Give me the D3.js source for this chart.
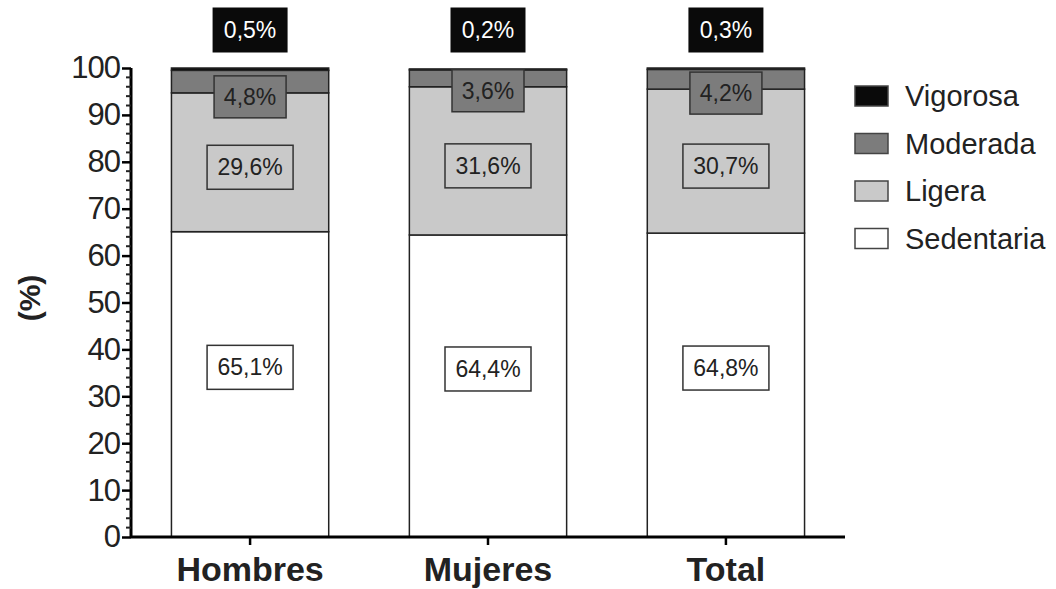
<!DOCTYPE html>
<html>
<head>
<meta charset="utf-8">
<script src="https://cdn.jsdelivr.net/npm/d3@7"></script>
<style>
  body { margin: 0; background: #fff; }
  text { font-family: "Liberation Sans", Arial, sans-serif; }
</style>
</head>
<body>
<div id="chart"></div>
<script>
var groups = ["Hombres", "Mujeres", "Total"];
var levels = ["Sedentaria", "Ligera", "Moderada", "Vigorosa"];
var sedentaria = [65.1, 64.4, 64.8];
var ligera = [29.6, 31.6, 30.7];
var moderada = [4.8, 3.6, 4.2];
var vigorosa = [0.5, 0.2, 0.3];
var yTicks = [0, 10, 20, 30, 40, 50, 60, 70, 80, 90, 100];

var series = [sedentaria, ligera, moderada, vigorosa];
var fills = ["#ffffff", "#c9c9c9", "#7c7c7c", "#0a0a0a"];

var width = 1056, height = 589;
var svg = d3.select("#chart").append("svg")
    .attr("width", width)
    .attr("height", height);

var x = d3.scaleBand().domain(groups).range([131, 845]).paddingInner(0.339).paddingOuter(0.17);
var y = d3.scaleLinear().domain([0, 100]).range([537, 68]);

// stacked data
var rows = groups.map(function (g, i) {
    var o = { group: g };
    levels.forEach(function (l, j) { o[l] = series[j][i]; });
    return o;
});
var stacked = d3.stack().keys(levels)(rows);

var layer = svg.selectAll(".layer")
    .data(stacked)
    .enter().append("g")
    .attr("class", "layer")
    .attr("fill", function (d, i) { return fills[i]; });

layer.selectAll("rect")
    .data(function (d) { return d; })
    .enter().append("rect")
    .attr("x", function (d) { return x(d.data.group); })
    .attr("y", function (d) { return y(d[1]); })
    .attr("width", x.bandwidth())
    .attr("height", function (d) { return y(d[0]) - y(d[1]); })
    .attr("stroke", "#222")
    .attr("stroke-width", 1.5);

// value labels
function fmt(v) { return v.toFixed(1).replace(".", ",") + "%"; }

stacked.forEach(function (s, j) {
    s.forEach(function (d) {
        var cx = x(d.data.group) + x.bandwidth() / 2;
        var cy, bw = 86, bh = 44, fs = 23;
        if (j === 0) cy = y((d[0] + d[1]) / 2) - 17;
        else if (j === 1) cy = y((d[0] + d[1]) / 2) + 5;
        else if (j === 2) { cy = y(d[0]) + 4; bw = 72; bh = 42; }
        else { cy = 30; bw = 75; bh = 45; fs = 23; }
        var g = svg.append("g").attr("transform", "translate(" + cx + "," + cy + ")");
        g.append("rect")
            .attr("x", -bw / 2).attr("y", -bh / 2)
            .attr("width", bw).attr("height", bh)
            .attr("fill", fills[j])
            .attr("stroke", j === 3 ? "none" : "#333")
            .attr("stroke-width", 1.5);
        g.append("text")
            .attr("text-anchor", "middle")
            .attr("dy", "0.35em")
            .attr("font-size", fs)
            .attr("fill", j === 3 ? "#fff" : "#222")
            .text(fmt(d.data[levels[j]]));
    });
});

// y axis
var yAxis = d3.axisLeft(y).tickValues(yTicks).tickSize(9).tickPadding(2);
var ya = svg.append("g")
    .attr("transform", "translate(131,0)")
    .call(yAxis);
ya.select(".domain").attr("stroke-width", 3).attr("d", "M0," + y(100) + "V" + y(0));
ya.selectAll(".tick line").attr("stroke-width", 2.5);
ya.selectAll("text").attr("font-size", 31).attr("letter-spacing", -1).attr("fill", "#222");

var minor = d3.range(0, 101, 2).filter(function (v) { return v % 10 !== 0; });
ya.selectAll(".minor")
    .data(minor)
    .enter().append("line")
    .attr("x1", 0).attr("x2", -5)
    .attr("y1", function (d) { return y(d); })
    .attr("y2", function (d) { return y(d); })
    .attr("stroke", "#222")
    .attr("stroke-width", 2);

// x axis
var xAxis = d3.axisBottom(x).tickSize(8).tickPadding(12);
var xa = svg.append("g")
    .attr("transform", "translate(0," + y(0) + ")")
    .call(xAxis);
xa.select(".domain").attr("stroke-width", 3).attr("d", "M131,0H845");
xa.selectAll(".tick line").attr("stroke-width", 2.5);
xa.selectAll("text")
    .attr("font-size", 34)
    .attr("font-weight", "bold")
    .attr("fill", "#222");

// y label
svg.append("text")
    .attr("transform", "translate(40,298) rotate(-90)")
    .attr("text-anchor", "middle")
    .attr("font-size", 30)
    .attr("font-weight", "bold")
    .attr("fill", "#222")
    .text("(%)");

// legend
var legendOrder = levels.slice().reverse();
var legend = svg.selectAll(".legend")
    .data(legendOrder)
    .enter().append("g")
    .attr("class", "legend")
    .attr("transform", function (d, i) { return "translate(855," + (86 + i * 47.5) + ")"; });

legend.append("rect")
    .attr("width", 33).attr("height", 20)
    .attr("fill", function (d) { return fills[levels.indexOf(d)]; })
    .attr("stroke", "#444")
    .attr("stroke-width", 1.5);

legend.append("text")
    .attr("x", 50).attr("y", 10)
    .attr("dy", "0.35em")
    .attr("font-size", 29)
    .attr("fill", "#222")
    .text(function (d) { return d; });
</script>
</body>
</html>
